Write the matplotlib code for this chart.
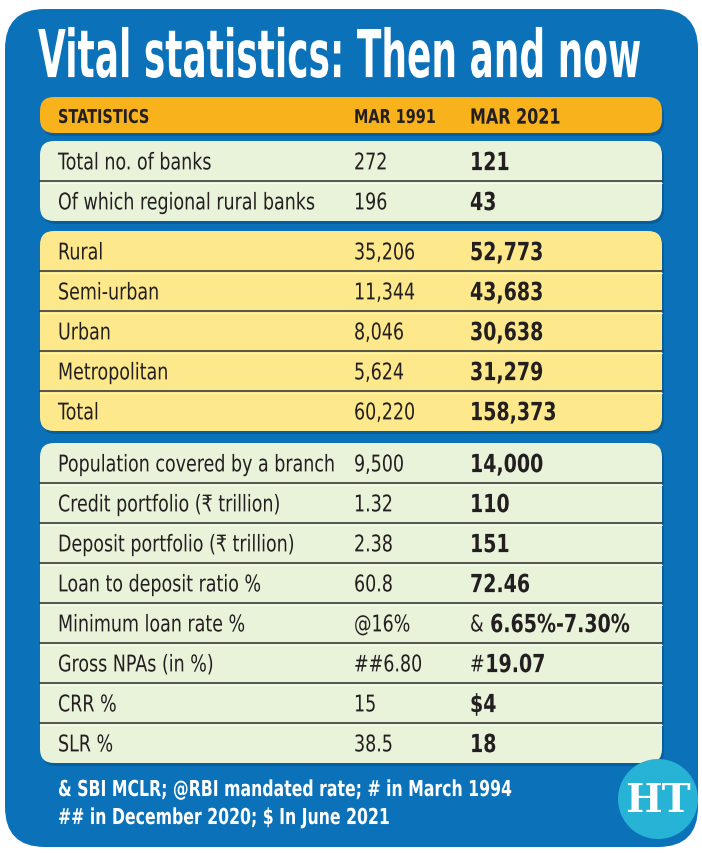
import matplotlib.pyplot as plt
from matplotlib.patches import FancyBboxPatch, Circle, PathPatch
from matplotlib.textpath import TextPath
from matplotlib.font_manager import FontProperties
from matplotlib.transforms import Affine2D

title = 'Vital statistics: Then and now'
headers = ['STATISTICS', 'MAR 1991', 'MAR 2021']
group1 = ['Total no. of banks', 'Of which regional rural banks']
group1_1991 = ['272', '196']
group1_2021 = ['121', '43']
group2 = ['Rural', 'Semi-urban', 'Urban', 'Metropolitan', 'Total']
group2_1991 = ['35,206', '11,344', '8,046', '5,624', '60,220']
group2_2021 = ['52,773', '43,683', '30,638', '31,279', '158,373']
group3 = ['Population covered by a branch', 'Credit portfolio (₹ trillion)',
          'Deposit portfolio (₹ trillion)', 'Loan to deposit ratio %',
          'Minimum loan rate %', 'Gross NPAs (in %)', 'CRR %', 'SLR %']
group3_1991 = ['9,500', '1.32', '2.38', '60.8', '@16%', '##6.80', '15', '38.5']
group3_2021 = ['14,000', '110', '151', '72.46', '6.65%-7.30%', '19.07', '4', '18']
group3_prefix = ['', '', '', '', '&', '#', '', '']
group3_boldprefix = ['', '', '', '', '', '', '$', '']
notes = ['& SBI MCLR; @RBI mandated rate; # in March 1994',
         '## in December 2020; $ In June 2021']

fig = plt.figure(figsize=(7.02, 8.54), dpi=100)
ax = fig.add_axes([0, 0, 1, 1])
ax.set_xlim(0, 702)
ax.set_ylim(854, 0)
ax.axis('off')

BLUE = '#0b72ba'
GREEN = '#e9f3da'
YELLOW = '#fde98c'
ORANGE = '#f7b21c'
DARK = '#231f20'

REG = FontProperties(family='DejaVu Sans')
BOLD = FontProperties(family='DejaVu Sans', weight='bold')


def ctext(x, yc, s, size, bold=False, color=DARK, squeeze=0.76, width=None):
    # condensed text drawn as a path; returns the drawn width
    tp = TextPath((0, 0), s, size=size, prop=BOLD if bold else REG)
    ext = tp.get_extents()
    sx = width / ext.x1 if width else squeeze
    base = yc + 0.365 * size
    tr = Affine2D().scale(sx, -1).translate(x, base)
    ax.add_patch(PathPatch(tr.transform_path(tp), fc=color, ec='none', lw=0))
    return ext.x1 * sx


ax.add_patch(FancyBboxPatch((5, 10), 693, 838, boxstyle='round,pad=0,rounding_size=40',
                            fc=BLUE, ec='none'))
ctext(38, 54, title, 66, bold=True, color='white', width=602)


def box(y0, y1, color):
    ax.add_patch(FancyBboxPatch((42, y0 + 3), 622, y1 - y0, boxstyle='round,pad=0,rounding_size=14',
                                fc='#07508a', ec='none', alpha=0.6))
    ax.add_patch(FancyBboxPatch((40, y0), 622, y1 - y0, boxstyle='round,pad=0,rounding_size=14',
                                fc=color, ec='none'))


xl, x1, x2 = 58, 354, 470
fs = 23
fb = 25

box(98, 134, ORANGE)
ctext(xl, 117, headers[0], 19, bold=True)
ctext(x1, 117, headers[1], 19, bold=True)
ctext(x2, 117, headers[2], 21, bold=True)


def rows(y0, labels, a, b, color, pre=None, bpre=None, h=40):
    n = len(labels)
    box(y0, y0 + n * h, color)
    for i in range(n):
        yc = y0 + h * i + h / 2
        if i > 0:
            ax.plot([40, 662], [y0 + h * i, y0 + h * i], color='#3b3b3b', lw=1.2)
            ax.plot([40, 662], [y0 + h * i + 1.5, y0 + h * i + 1.5], color='white', lw=0.8, alpha=0.6)
        ctext(xl, yc, labels[i], fs)
        ctext(x1, yc, a[i], fs)
        p = pre[i] if pre else ''
        bp = bpre[i] if bpre else ''
        w = 0
        if p:
            w = ctext(x2, yc, p, fs) + (7 if p == '&' else 2)
        ctext(x2 + w, yc, bp + b[i], fb, bold=True)


rows(142, group1, group1_1991, group1_2021, GREEN)
rows(232, group2, group2_1991, group2_2021, YELLOW)
rows(444, group3, group3_1991, group3_2021, GREEN, group3_prefix, group3_boldprefix)

ctext(58, 789, notes[0], 22, bold=True, color='white', squeeze=0.715)
ctext(58, 817, notes[1], 22, bold=True, color='white', squeeze=0.715)

ax.add_patch(Circle((658, 800), 40, fc='#26b3d5', ec='none'))
ax.text(658, 801, 'HT', fontsize=28, family='DejaVu Serif', fontweight='bold', color='white',
        ha='center', va='center')

fig.savefig('out.png', dpi=100)
